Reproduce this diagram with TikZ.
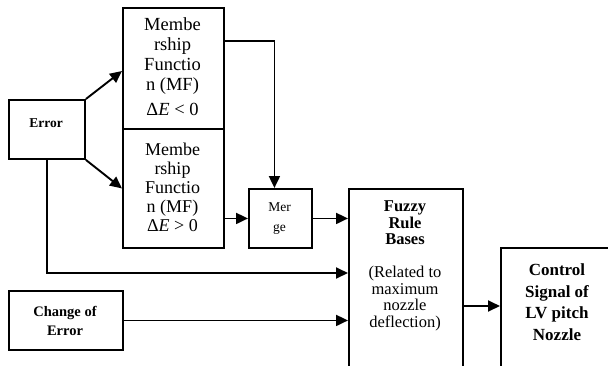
\documentclass[tikz,border=0pt]{standalone}
\usepackage{fontspec}
\setmainfont{Liberation Serif}
\usetikzlibrary{arrows.meta}
\tikzset{
  blk/.style={draw, line width=1.9pt, inner sep=0pt, anchor=north west},
  lbl/.style={align=center, inner sep=0pt},
  arr/.style={line width=1.9pt, -{Triangle[length=12pt,width=11pt]}},
}
\newcommand{\blkbox}[5]{% name, x0, y0, x1, y1
  \node[blk, minimum width=#4pt-#2pt, minimum height=#5pt-#3pt] (#1) at (#2,#3) {};}
\begin{document}
\begin{tikzpicture}[x=1pt,y=-1pt]
  \useasboundingbox (0,0) rectangle (608,365);
  \clip (0,0) rectangle (608,365);
  \fill[white] (0,0) rectangle (608,365);

  % boxes
  \blkbox{err}{8}{99}{84}{158}
  \blkbox{mf1}{122}{7}{223}{128}
  \blkbox{mf2}{122}{128}{223}{247}
  \blkbox{mrg}{248}{188}{311}{247}
  \blkbox{fz}{348}{188}{462}{385}
  \blkbox{ctl}{500}{247}{625}{385}
  \blkbox{coe}{8}{290}{122}{349}

  % texts
  \node[lbl, font=\fontsize{13.5}{16}\selectfont\bfseries] (errT) at (46,123) {Error};
  \node[lbl, font=\fontsize{18.5}{20}\selectfont] (mf1T) at (172.5,67)
    {Membe\\rship\\Functio\\n (MF)\\[5pt]Δ\textit{E} < 0};
  \node[lbl, font=\fontsize{18}{19}\selectfont] (mf2T) at (172.5,187)
    {Membe\\rship\\Functio\\n (MF)\\Δ\textit{E} > 0};
  \node[lbl, font=\fontsize{13.5}{20}\selectfont] (mrgT) at (279.5,219) {Mer\\ge};
  \node[lbl, font=\fontsize{16.5}{16.5}\selectfont] (fzT) at (405,266)
    {\textbf{Fuzzy}\\\textbf{Rule}\\\textbf{Bases}\\[16.5pt](Related to\\maximum\\nozzle\\deflection)};
  \node[lbl, font=\fontsize{17}{21.5}\selectfont\bfseries] (ctlT) at (557,302)
    {Control\\Signal of\\LV pitch\\Nozzle};
  \node[lbl, font=\fontsize{14.5}{19}\selectfont\bfseries] (coeT) at (65,320.5)
    {Change of\\Error};

  % connectors
  \coordinate (in1) at (122,71);
  \draw[arr] (err.north east) -- (in1);
  \draw[arr] (err.south east) -- (mf2.west);
  \draw[arr] (mf1.east |- 0,41) -| ([xshift=-6pt]mrg.north);
  \draw[arr] (mf2.east |- mrg.west) -- (mrg.west);
  \draw[arr] (mrg.east) -- (fz.west |- mrg.east);
  \draw[arr] (err.south) |- (fz.west |- 0,273);
  \draw[arr] (coe.east) -- (fz.west |- coe.east);
  \draw[arr] (fz.east |- 0,306) -- (ctl.west |- 0,306);
\end{tikzpicture}
\end{document}
